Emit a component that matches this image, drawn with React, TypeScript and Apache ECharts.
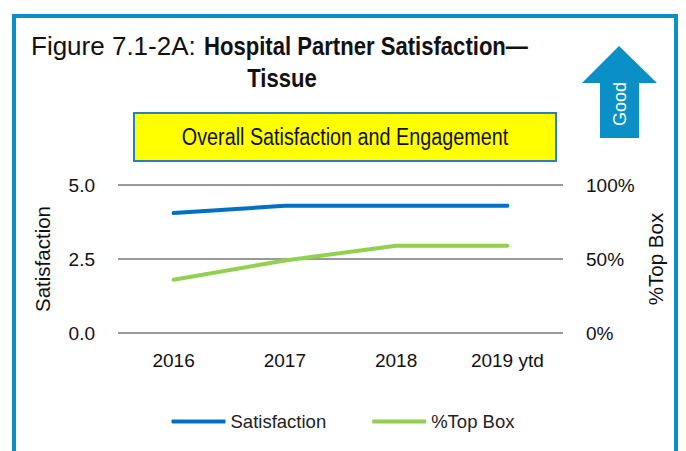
import React, { useEffect, useRef } from "react";
import * as echarts from "echarts";

const categories = ["2016", "2017", "2018", "2019 ytd"];
const satisfaction = [4.05, 4.3, 4.3, 4.3];
const topBox = [36, 49, 59, 59];

const SANS = "'Liberation Sans', Arial, sans-serif";

export default function App() {
  const ref = useRef<HTMLDivElement>(null);
  useEffect(() => {
    document.body.style.margin = "0";
    const chart = echarts.init(ref.current!, null, { renderer: "svg" });
    chart.setOption({
      animation: false,
      backgroundColor: "#ffffff",
      grid: { left: 118, right: 123, top: 185, bottom: 118, containLabel: false },
      legend: {
        bottom: 15,
        left: "center",
        itemWidth: 54,
        itemHeight: 4,
        itemGap: 46,
        icon: "roundRect",
        textStyle: { fontFamily: SANS, fontSize: 18.5, color: "#222" },
        data: ["Satisfaction", "%Top Box"],
      },
      xAxis: {
        type: "category",
        data: categories,
        boundaryGap: true,
        axisLine: { show: false },
        axisTick: { show: false },
        axisLabel: { fontFamily: SANS, fontSize: 19, color: "#111", margin: 18 },
      },
      yAxis: [
        {
          type: "value",
          min: 0,
          max: 5,
          interval: 2.5,
          name: "Satisfaction",
          nameLocation: "middle",
          nameGap: 65,
          nameRotate: 90,
          nameTextStyle: { fontFamily: SANS, fontSize: 20.5, color: "#111" },
          axisLine: { show: false },
          axisTick: { show: false },
          axisLabel: {
            fontFamily: SANS,
            fontSize: 19,
            color: "#111",
            margin: 23,
            formatter: (v: number) => v.toFixed(1),
          },
          splitLine: { lineStyle: { color: "#999", width: 2 } },
        },
        {
          type: "value",
          min: 0,
          max: 100,
          interval: 50,
          name: "%Top Box",
          nameLocation: "middle",
          nameGap: 79,
          nameRotate: 90,
          nameTextStyle: { fontFamily: SANS, fontSize: 20.5, color: "#111" },
          axisLine: { show: false },
          axisTick: { show: false },
          axisLabel: {
            fontFamily: SANS,
            fontSize: 19,
            color: "#111",
            margin: 23,
            formatter: (v: number) => v + "%",
          },
          splitLine: { show: false },
        },
      ],
      series: [
        {
          name: "Satisfaction",
          type: "line",
          data: satisfaction,
          yAxisIndex: 0,
          showSymbol: false,
          lineStyle: { color: "#0070c0", width: 4, cap: "round" },
          itemStyle: { color: "#0070c0" },
        },
        {
          name: "%Top Box",
          type: "line",
          data: topBox,
          yAxisIndex: 1,
          showSymbol: false,
          lineStyle: { color: "#92d050", width: 4, cap: "round" },
          itemStyle: { color: "#92d050" },
        },
      ],
      graphic: [
        {
          type: "rect",
          shape: { x: 14, y: 16, width: 662, height: 480 },
          style: { fill: "none", stroke: "#0a8fc6", lineWidth: 4 },
          silent: true,
        },
        {
          type: "text",
          x: 31,
          y: 46,
          style: {
            text: "Figure 7.1-2A:",
            verticalAlign: "middle",
            fontFamily: SANS,
            fontSize: 26,
            fill: "#111",
          },
        },
        {
          type: "text",
          x: 204,
          y: 46,
          scaleX: 0.85,
          style: {
            text: "Hospital Partner Satisfaction—",
            verticalAlign: "middle",
            fontFamily: SANS,
            fontSize: 26,
            fontWeight: "bold",
            fill: "#111",
          },
        },
        {
          type: "text",
          x: 282,
          y: 78,
          scaleX: 0.85,
          style: {
            text: "Tissue",
            align: "center",
            verticalAlign: "middle",
            fontFamily: SANS,
            fontSize: 26,
            fontWeight: "bold",
            fill: "#111",
          },
        },
        {
          type: "polygon",
          shape: {
            points: [
              [619, 46],
              [657, 83],
              [639, 83],
              [639, 138],
              [600, 138],
              [600, 83],
              [582, 83],
            ],
          },
          style: { fill: "#0a8fc6" },
        },
        {
          type: "text",
          x: 620,
          y: 104,
          rotation: Math.PI / 2,
          style: {
            text: "Good",
            align: "center",
            verticalAlign: "middle",
            fontFamily: SANS,
            fontSize: 18,
            fill: "#ffffff",
          },
        },
        {
          type: "rect",
          shape: { x: 134, y: 113, width: 422, height: 48 },
          style: { fill: "#ffff00", stroke: "#2a7fc1", lineWidth: 2 },
        },
        {
          type: "text",
          x: 345,
          y: 137,
          scaleX: 0.86,
          style: {
            text: "Overall Satisfaction and Engagement",
            align: "center",
            verticalAlign: "middle",
            fontFamily: SANS,
            fontSize: 23,
            fill: "#111",
          },
        },
      ],
    });
    return () => chart.dispose();
  }, []);
  return <div ref={ref} style={{ width: 686, height: 451 }} />;
}
